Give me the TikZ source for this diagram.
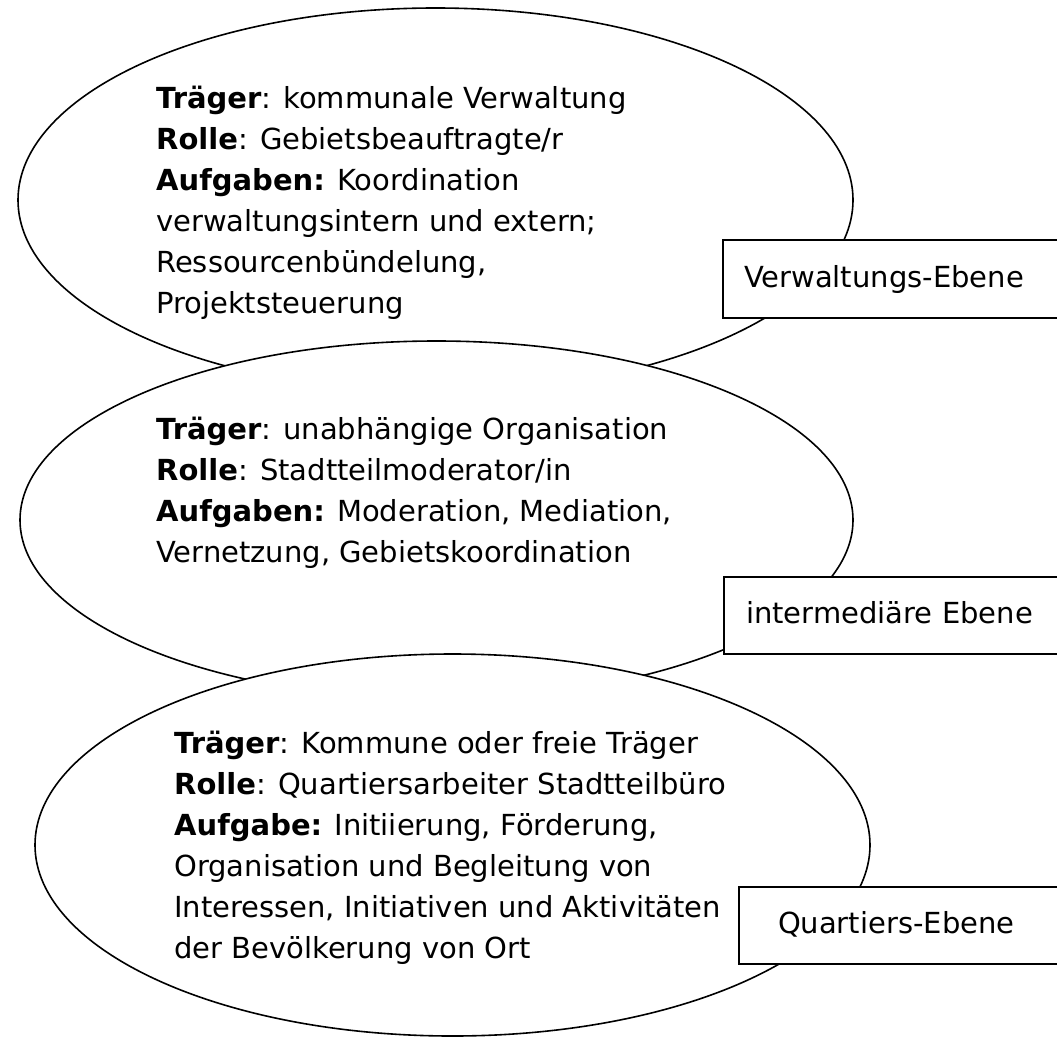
\documentclass[tikz,border=0pt]{standalone}
\usepackage{fontspec}
\setmainfont{DejaVu Sans}
\usetikzlibrary{shapes.geometric}
\begin{document}
\begin{tikzpicture}[x=1pt,y=-1pt,
  lvl/.style={ellipse, draw, line width=1.6pt, fill=white, inner sep=0pt},
  info/.style={anchor=north west, align=left, inner sep=0pt, font=\fontsize{29}{41}\selectfont},
  tag/.style={draw, line width=2pt, fill=white, anchor=north west, align=left,
    inner ysep=0pt, text width=380pt, minimum height=77pt,
    text height=22pt, text depth=6pt, font=\fontsize{29}{36}\selectfont}
]
\useasboundingbox (0,0) rectangle (1057,1038);
\clip (0,0) rectangle (1057,1038);

\node[lvl, minimum width=835pt, minimum height=384pt] (e1) at (435.5,200) {};
\node[lvl, minimum width=833pt, minimum height=358pt] (e2) at (436.5,520) {};
\node[lvl, minimum width=835pt, minimum height=382pt] (e3) at (452.5,845) {};

\node[info] (t1) at (156,86) {\textbf{Träger}: kommunale Verwaltung\\
\textbf{Rolle}: Gebietsbeauftragte/r\\
\textbf{Aufgaben:} Koordination\\
verwaltungsintern und extern;\\
Ressourcenbündelung,\\
Projektsteuerung};

\node[info] (t2) at (156,417) {\textbf{Träger}: unabhängige Organisation\\
\textbf{Rolle}: Stadtteilmoderator/in\\
\textbf{Aufgaben:} Moderation, Mediation,\\
Vernetzung, Gebietskoordination};

\node[info] (t3) at (174,731) {\textbf{Träger}: Kommune oder freie Träger\\
\textbf{Rolle}: Quartiersarbeiter Stadtteilbüro\\
\textbf{Aufgabe:} Initiierung, Förderung,\\
Organisation und Begleitung von\\
Interessen, Initiativen und Aktivitäten\\
der Bevölkerung von Ort};

\node[tag, inner xsep=21pt, minimum height=78pt] (b1) at (722,239) {Verwaltungs-Ebene};
\node[tag, inner xsep=22pt] (b2) at (723,576) {intermediäre Ebene};
\node[tag, inner xsep=39pt] (b3) at (738,886) {Quartiers-Ebene};
\end{tikzpicture}
\end{document}
